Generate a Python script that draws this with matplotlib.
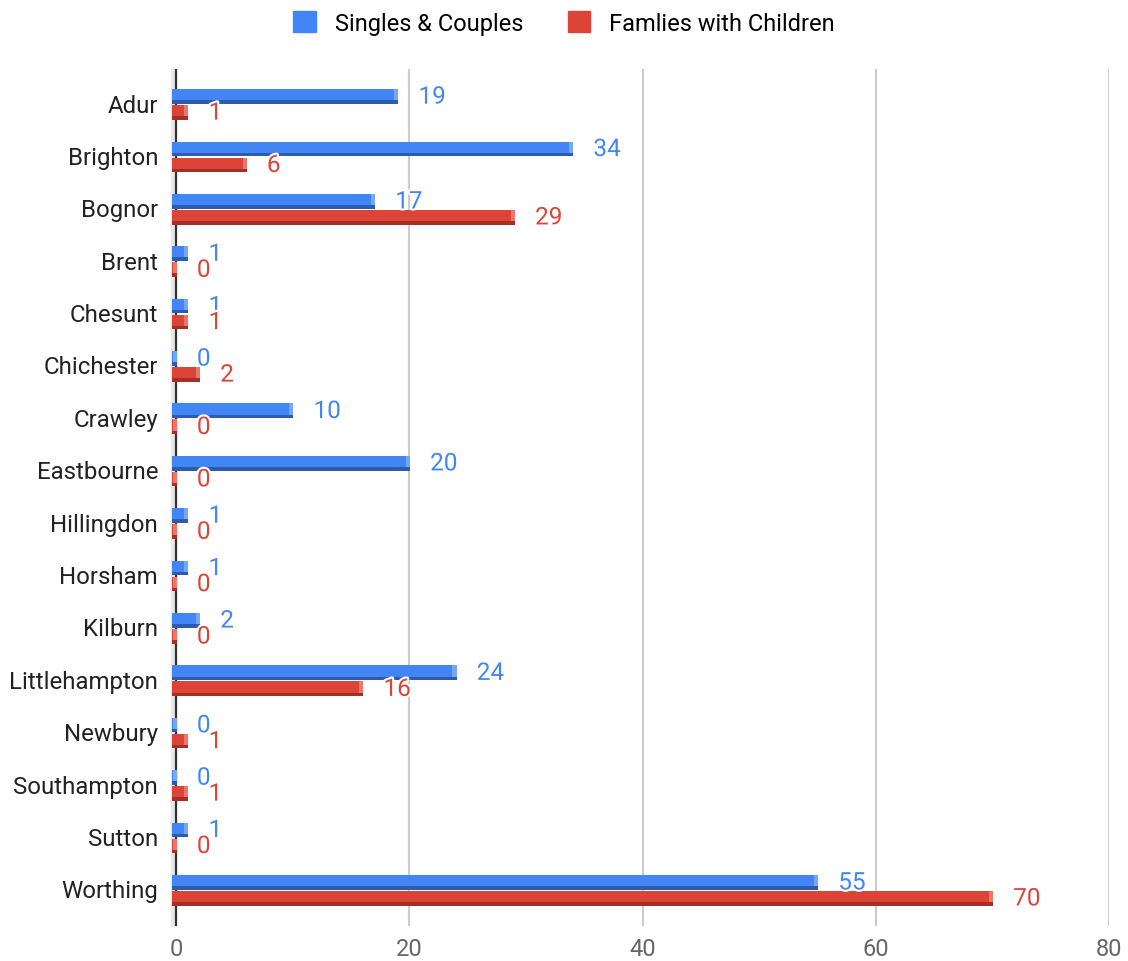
import matplotlib.pyplot as plt
import matplotlib.patheffects as pe
from matplotlib.patches import Patch
import numpy as np

plt.rcParams['font.family'] = ['Roboto', 'DejaVu Sans']

# data
towns = ['Adur', 'Brighton', 'Bognor', 'Brent', 'Chesunt', 'Chichester', 'Crawley',
         'Eastbourne', 'Hillingdon', 'Horsham', 'Kilburn', 'Littlehampton', 'Newbury',
         'Southampton', 'Sutton', 'Worthing']
singles = [19, 34, 17, 1, 1, 0, 10, 20, 1, 1, 2, 24, 0, 0, 1, 55]
families = [1, 6, 29, 0, 1, 2, 0, 0, 0, 0, 0, 16, 1, 1, 0, 70]
x_ticks = [0, 20, 40, 60, 80]

blue, blue_dark, blue_light = '#4285F4', '#2E5BAA', '#76A7F7'
red, red_dark, red_light = '#DB4437', '#A32F25', '#E8776D'

start = -0.35   # bars begin a little left of the axis (3d look)
bevel = 0.35

fig = plt.figure(figsize=(11.28, 9.62), dpi=100)
ax = fig.add_axes([172 / 1128, 1 - 927 / 962, (1109 - 172) / 1128, (927 - 70) / 962])

y = np.arange(len(towns))
h = 0.28


def draw_series(vals, offset, face, dark, light, txt_col):
    pos = y + offset
    vals = np.array(vals)
    w = vals - start
    # main face
    ax.barh(pos, w, left=start, height=h, color=face, zorder=3)
    # lighter right end bevel
    ax.barh(pos - h * 0.12, bevel, left=vals - bevel + 0.05, height=h * 0.76, color=light, zorder=3)
    # darker bottom strip
    ax.barh(pos + h * 0.38, w + 0.05, left=start, height=h * 0.24, color=dark, zorder=4)
    for p, v in zip(pos, vals):
        ax.annotate(str(v), (v, p), xytext=(15, -0.5), textcoords='offset points',
                    ha='left', va='center', fontsize=17.5, color=txt_col, zorder=6,
                    path_effects=[pe.withStroke(linewidth=3, foreground='white')])


draw_series(singles, -0.115, blue, blue_dark, blue_light, '#4285F4')
draw_series(families, 0.19, red, red_dark, red_light, '#DB4437')

ax.set_xlim(start, 80)
ax.set_ylim(15.72, -0.64)
ax.set_xticks(x_ticks)
ax.set_xticklabels([str(t) for t in x_ticks])
ax.set_yticks(y)
ax.set_yticklabels(towns)
ax.tick_params(axis='x', length=0, labelsize=17, colors='#666666', pad=8)
ax.tick_params(axis='y', length=0, labelsize=17.3, labelcolor='#222222', pad=10)

for t in x_ticks[1:]:
    ax.axvline(t, color='#cccccc', lw=1.5, zorder=1)
ax.axvspan(-0.45, 0, color='#e8e8e8', zorder=1, clip_on=False)
ax.axvline(0, color='#333333', lw=1.6, zorder=2)

for s in ax.spines.values():
    s.set_visible(False)

handles = [Patch(facecolor=blue, edgecolor=blue), Patch(facecolor=red, edgecolor=red)]
fig.legend(handles, ['Singles & Couples', 'Famlies with Children'], loc='center',
           bbox_to_anchor=(0.5, 1 - 24 / 962), ncol=2, frameon=False, fontsize=17,
           handlelength=0.95, handleheight=0.95, columnspacing=1.9, handletextpad=0.8)

fig.savefig('out.png', dpi=100)
